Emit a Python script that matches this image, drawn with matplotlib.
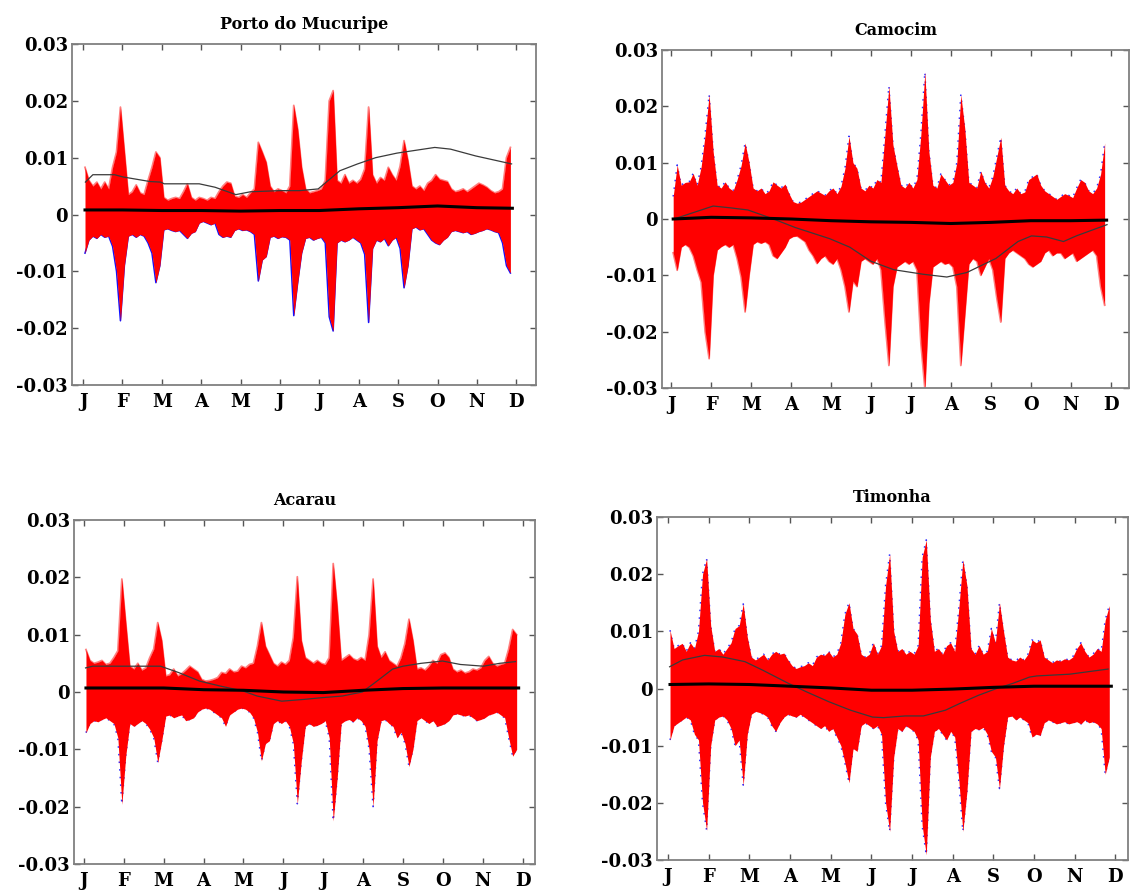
import numpy as np
import matplotlib
matplotlib.use("Agg")
import matplotlib.pyplot as plt

MONTHS = ["J", "F", "M", "A", "M", "J", "J", "A", "S", "O", "N", "D"]
STATIONS = ["Porto do Mucuripe", "Camocim", "Acarau", "Timonha"]

# residual envelope sampled every 0.1 month (J = 0), values in 1e-4
SAMPLE_MONTH = np.round(0.05 + 0.1 * np.arange(109), 2)

UPPER_MUCURIPE = [
    83, 60, 50, 57, 45, 57, 45, 83, 110, 189,
    112, 35, 40, 52, 38, 35, 60, 83, 110, 100,
    30, 25, 28, 30, 28, 40, 54, 30, 25, 30,
    28, 25, 30, 28, 40, 50, 57, 55, 32, 30,
    35, 30, 38, 45, 127, 110, 92, 50, 40, 45,
    42, 38, 50, 192, 150, 83, 45, 38, 40, 42,
    45, 60, 200, 218, 60, 55, 70, 55, 60, 55,
    62, 80, 189, 70, 55, 65, 60, 83, 70, 60,
    85, 130, 95, 50, 45, 50, 42, 55, 60, 70,
    62, 60, 58, 45, 40, 42, 45, 40, 45, 50,
    55, 52, 48, 42, 38, 40, 45, 100, 118]
LOWER_MUCURIPE = [
    -68, -45, -38, -42, -35, -40, -38, -56, -100, -187,
    -90, -38, -35, -40, -35, -38, -50, -68, -120, -90,
    -27, -25, -28, -30, -28, -35, -42, -33, -30, -15,
    -12, -15, -18, -15, -35, -40, -38, -40, -28, -25,
    -28, -27, -30, -35, -117, -80, -74, -40, -38, -42,
    -39, -40, -45, -178, -120, -68, -42, -40, -45, -42,
    -40, -50, -180, -205, -50, -45, -48, -45, -40, -45,
    -50, -70, -190, -60, -45, -48, -42, -55, -45, -40,
    -60, -129, -90, -25, -22, -27, -25, -35, -45, -50,
    -53, -45, -40, -30, -28, -30, -32, -30, -35, -33,
    -30, -28, -25, -27, -30, -32, -50, -90, -103]

UPPER_CAMOCIM = [
    40, 96, 60, 65, 66, 81, 60, 93, 150, 221,
    120, 60, 55, 66, 55, 50, 70, 95, 135, 100,
    55, 50, 55, 45, 50, 66, 60, 55, 62, 45,
    31, 28, 30, 35, 40, 45, 50, 46, 42, 50,
    55, 45, 58, 90, 147, 100, 90, 55, 50, 60,
    55, 70, 65, 150, 236, 132, 95, 60, 55, 65,
    55, 70, 150, 261, 120, 60, 55, 80, 70, 60,
    65, 100, 221, 160, 65, 60, 55, 85, 65, 55,
    75, 110, 145, 60, 50, 45, 55, 45, 48, 70,
    75, 80, 60, 50, 45, 40, 35, 40, 45, 42,
    38, 55, 70, 65, 50, 45, 55, 80, 135]
LOWER_CAMOCIM = [
    -60, -91, -50, -45, -50, -65, -90, -112, -200, -248,
    -100, -55, -49, -45, -50, -45, -70, -103, -165, -100,
    -45, -40, -43, -40, -45, -65, -70, -60, -50, -35,
    -31, -30, -35, -40, -55, -65, -79, -70, -65, -75,
    -80, -70, -90, -120, -165, -110, -120, -75, -70, -75,
    -80, -70, -90, -180, -260, -120, -85, -80, -75, -80,
    -75, -90, -220, -301, -150, -85, -80, -75, -80, -78,
    -85, -120, -260, -170, -80, -70, -75, -100, -85, -70,
    -90, -140, -183, -70, -60, -55, -60, -65, -70, -80,
    -85, -80, -75, -60, -55, -65, -60, -60, -70, -65,
    -60, -75, -70, -65, -60, -55, -65, -120, -153]

UPPER_ACARAU = [
    74, 55, 50, 52, 55, 48, 50, 60, 72, 197,
    120, 45, 40, 50, 38, 42, 60, 75, 121, 90,
    28, 30, 40, 28, 32, 38, 45, 40, 35, 22,
    19, 20, 22, 25, 34, 32, 40, 35, 36, 45,
    42, 48, 50, 80, 121, 80, 65, 50, 45, 52,
    48, 55, 95, 201, 90, 60, 55, 50, 55, 50,
    48, 60, 224, 150, 55, 60, 65, 58, 55, 60,
    55, 100, 197, 80, 60, 70, 55, 50, 45, 60,
    85, 127, 90, 40, 42, 38, 45, 55, 50, 65,
    68, 60, 40, 35, 38, 33, 35, 40, 38, 42,
    55, 62, 50, 45, 48, 50, 75, 109, 100]
LOWER_ACARAU = [
    -71, -55, -50, -52, -48, -45, -50, -55, -80, -196,
    -110, -55, -60, -55, -50, -55, -65, -80, -123, -85,
    -42, -40, -45, -42, -40, -50, -48, -45, -35, -30,
    -28, -30, -35, -40, -45, -60, -40, -35, -30, -28,
    -30, -35, -45, -70, -120, -90, -85, -55, -50, -55,
    -50, -60, -90, -195, -120, -60, -55, -60, -58, -55,
    -50, -80, -225, -150, -55, -50, -48, -52, -45, -50,
    -60, -100, -200, -85, -50, -48, -55, -60, -80, -70,
    -90, -130, -100, -50, -45, -50, -55, -50, -60, -58,
    -55, -50, -40, -38, -40, -42, -40, -45, -50, -48,
    -45, -40, -38, -35, -40, -45, -80, -112, -100]

UPPER_TIMONHA = [
    102, 70, 75, 79, 65, 80, 70, 100, 200, 227,
    110, 65, 70, 60, 70, 80, 105, 110, 148, 90,
    55, 50, 55, 60, 50, 60, 65, 60, 62, 50,
    40, 35, 38, 40, 45, 40, 55, 60, 58, 65,
    55, 60, 80, 130, 150, 105, 95, 60, 55, 60,
    80, 60, 75, 180, 235, 100, 65, 70, 60, 65,
    60, 75, 230, 260, 120, 65, 70, 60, 75, 80,
    65, 140, 225, 180, 70, 60, 75, 60, 65, 105,
    80, 150, 100, 55, 50, 48, 55, 50, 60, 85,
    80, 85, 55, 50, 45, 50, 48, 52, 50, 55,
    70, 80, 65, 55, 60, 70, 65, 120, 145]
LOWER_TIMONHA = [
    -90, -65, -60, -55, -50, -55, -80, -90, -200, -248,
    -100, -55, -50, -48, -55, -70, -100, -90, -169, -80,
    -45, -40, -42, -45, -50, -65, -75, -60, -50, -45,
    -48, -50, -45, -50, -55, -60, -65, -70, -65, -75,
    -70, -85, -100, -130, -165, -105, -110, -65, -60, -65,
    -70, -65, -80, -200, -250, -120, -70, -75, -65, -70,
    -75, -90, -240, -291, -120, -75, -70, -80, -90, -75,
    -85, -160, -250, -180, -75, -70, -72, -68, -80, -110,
    -120, -175, -100, -50, -48, -55, -50, -55, -60, -85,
    -80, -82, -60, -55, -58, -62, -60, -58, -62, -60,
    -58, -62, -55, -60, -58, -62, -70, -150, -120]

# thin seasonal curve (month, value)
TREND_X_MUCURIPE = [0.06, 0.25, 0.8, 1.02, 1.7, 1.97, 2.06, 2.95, 3.35, 3.88, 4.25,
                    5.0, 5.5, 5.97, 6.52, 6.97, 7.43, 7.97, 8.93, 9.33, 9.97, 10.88]
TREND_Y_MUCURIPE = [0.0057, 0.0070, 0.0070, 0.0066, 0.0058, 0.0057, 0.0054, 0.0054,
                    0.0048, 0.0035, 0.0040, 0.0042, 0.0042, 0.0045, 0.0077, 0.0089,
                    0.0100, 0.0108, 0.0118, 0.0115, 0.0103, 0.0089]
TREND_X_CAMOCIM = [0.07, 1.05, 1.46, 1.92, 2.28, 2.56, 3.1, 3.97, 4.47, 5.0, 5.57,
                   6.3, 6.9, 7.4, 8.13, 8.68, 9.02, 9.4, 9.82, 10.14, 10.91]
TREND_Y_CAMOCIM = [0.0, 0.0023, 0.0020, 0.0016, 0.0007, 0.0, -0.0015, -0.0035,
                   -0.0050, -0.0075, -0.0090, -0.0098, -0.0103, -0.0095, -0.0070,
                   -0.0040, -0.0030, -0.0032, -0.0040, -0.0030, -0.0010]
TREND_X_ACARAU = [0.04, 0.22, 1.92, 2.37, 2.9, 3.44, 3.98, 4.34, 4.96, 5.5, 5.95,
                  6.48, 6.98, 7.29, 7.74, 8.0, 8.45, 8.99, 9.44, 10.02, 10.42, 10.82]
TREND_Y_ACARAU = [0.0042, 0.0045, 0.0045, 0.0034, 0.0019, 0.0010, 0.0002, -0.0007,
                  -0.0016, -0.0013, -0.0010, -0.0007, 0.0, 0.0016, 0.0040, 0.0045,
                  0.0050, 0.0054, 0.0048, 0.0045, 0.0050, 0.0053]
TREND_X_TIMONHA = [0.04, 0.36, 0.9, 1.35, 1.89, 2.33, 2.96, 3.41, 3.95, 4.49, 5.03,
                   5.3, 5.83, 6.28, 6.82, 7.18, 7.63, 8.08, 8.48, 8.89, 9.07, 9.87, 10.82]
TREND_Y_TIMONHA = [0.0038, 0.0050, 0.0058, 0.0055, 0.0047, 0.0032, 0.0009, -0.0006,
                   -0.0023, -0.0038, -0.0050, -0.0051, -0.0048, -0.0048, -0.0038,
                   -0.0026, -0.0012, 0.0, 0.0009, 0.0020, 0.0022, 0.0025, 0.0034]

# thick mean line, values in 1e-4
MEAN_X = [0.05, 1, 2, 3, 4, 5, 6, 7, 8, 9, 10, 10.9]
MEAN_MUCURIPE = [8, 8, 7, 7, 6, 7, 7, 10, 12, 15, 12, 11]
MEAN_CAMOCIM = [0, 3, 2, 0, -3, -5, -6, -8, -6, -3, -3, -2]
MEAN_ACARAU = [7, 7, 7, 4, 3, 0, -1, 3, 6, 7, 7, 7]
MEAN_TIMONHA = [7, 8, 7, 4, 1, -3, -3, -1, 2, 4, 4, 4]

W, H = 1130, 892
# axes boxes in pixels: left, top, right, bottom
# edge styles: "blue" solid rim, "dots" sparse blue, "pink" soft red fringe
panels = [
    dict(name=STATIONS[0], box=(72, 44, 536, 385), xlim=(-0.28, 11.5),
         up=UPPER_MUCURIPE, lo=LOWER_MUCURIPE, tx=TREND_X_MUCURIPE, ty=TREND_Y_MUCURIPE,
         mean=MEAN_MUCURIPE, edge_up="pink", edge_lo="blue"),
    dict(name=STATIONS[1], box=(662, 50, 1129, 388), xlim=(-0.23, 11.46),
         up=UPPER_CAMOCIM, lo=LOWER_CAMOCIM, tx=TREND_X_CAMOCIM, ty=TREND_Y_CAMOCIM,
         mean=MEAN_CAMOCIM, edge_up="dots", edge_lo="pink"),
    dict(name=STATIONS[2], box=(74, 520, 535, 864), xlim=(-0.25, 11.31),
         up=UPPER_ACARAU, lo=LOWER_ACARAU, tx=TREND_X_ACARAU, ty=TREND_Y_ACARAU,
         mean=MEAN_ACARAU, edge_up="pink", edge_lo="dots"),
    dict(name=STATIONS[3], box=(657, 517, 1128, 860), xlim=(-0.27, 11.31),
         up=UPPER_TIMONHA, lo=LOWER_TIMONHA, tx=TREND_X_TIMONHA, ty=TREND_Y_TIMONHA,
         mean=MEAN_TIMONHA, edge_up="dots", edge_lo="dots"),
]

EDGE_STYLE = {
    "blue": dict(color="#1010ff", lw=1.1, ls="-"),
    "dots": dict(color="#3030ff", lw=1.1, ls=(0, (1, 4))),
    "pink": dict(color="#ff8080", lw=1.3, ls="-"),
}

FONT = dict(family="DejaVu Serif", weight="bold")

fig = plt.figure(figsize=(W / 100, H / 100), dpi=100)
fig.patch.set_facecolor("white")

for p in panels:
    l, t, r, b = p["box"]
    ax = fig.add_axes([l / W, 1 - b / H, (r - l) / W, (b - t) / H])

    up = np.array(p["up"]) * 1e-4
    lo = np.array(p["lo"]) * 1e-4

    # blue series peeking out at the edges, soft fringe elsewhere
    ax.plot(SAMPLE_MONTH, up, zorder=1, **EDGE_STYLE[p["edge_up"]])
    ax.plot(SAMPLE_MONTH, lo, zorder=1, **EDGE_STYLE[p["edge_lo"]])
    ax.fill_between(SAMPLE_MONTH, lo, up, color="#ff0000", lw=0, zorder=2)

    ax.plot(p["tx"], p["ty"], color="#3a3a3a", lw=0.9, zorder=3)
    ax.plot(MEAN_X, np.array(p["mean"]) * 1e-4, color="black", lw=2.2, zorder=4)

    ax.set_xlim(*p["xlim"])
    ax.set_ylim(-0.03, 0.03)
    ax.set_xticks(range(12))
    ax.set_xticklabels(MONTHS, fontsize=13, **FONT)
    ax.set_yticks([0.03, 0.02, 0.01, 0, -0.01, -0.02, -0.03])
    ax.set_yticklabels(["0.03", "0.02", "0.01", "0", "-0.01", "-0.02", "-0.03"],
                       fontsize=13, **FONT)
    ax.tick_params(direction="in", length=4, width=1, color="#555555",
                   top=True, right=True)
    ax.tick_params(axis="x", pad=6)
    ax.tick_params(axis="y", pad=3)
    for s in ax.spines.values():
        s.set_color("#808080")
        s.set_linewidth(1.3)
    ax.set_title(p["name"], fontsize=11.5, pad=11, **FONT)

fig.savefig("out.png", dpi=100, facecolor="white")
